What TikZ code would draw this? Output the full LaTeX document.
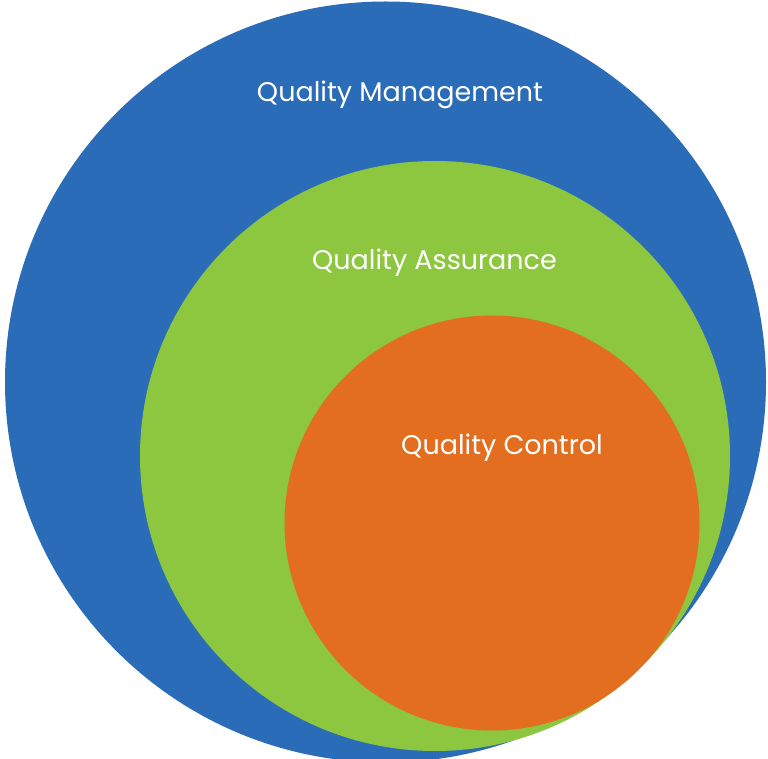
\documentclass[tikz,border=0pt]{standalone}
\usepackage{fontspec}
\setmainfont{Poppins}
\definecolor{qmblue}{HTML}{2B6CB8}
\definecolor{qagreen}{HTML}{8DC63F}
\definecolor{qcorange}{HTML}{E36E1F}
\begin{document}
\begin{tikzpicture}[x=1pt,y=1pt,
  disc/.style={circle,inner sep=0pt,outer sep=0pt,draw=none},
  lbl/.style={text=white,anchor=base,inner sep=0pt,font=\fontsize{27}{32}\selectfont}]
\useasboundingbox (0,0) rectangle (768,758);
\begin{scope}
\clip (0,0) rectangle (768,758);
\node[disc,fill=qmblue,minimum size=761pt] (qm) at (385.5,376) {};
\node[disc,fill=qagreen,minimum size=590pt] (qa) at (435,302) {};
\node[disc,fill=qcorange,minimum size=415pt] (qc) at (492,235) {};
\end{scope}
\node[lbl] (tqm) at (400,656) {Quality Management};
\node[lbl] (tqa) at (434.5,488) {Quality Assurance};
\node[lbl] (tqc) at (502,303) {Quality Control};
\end{tikzpicture}
\end{document}
